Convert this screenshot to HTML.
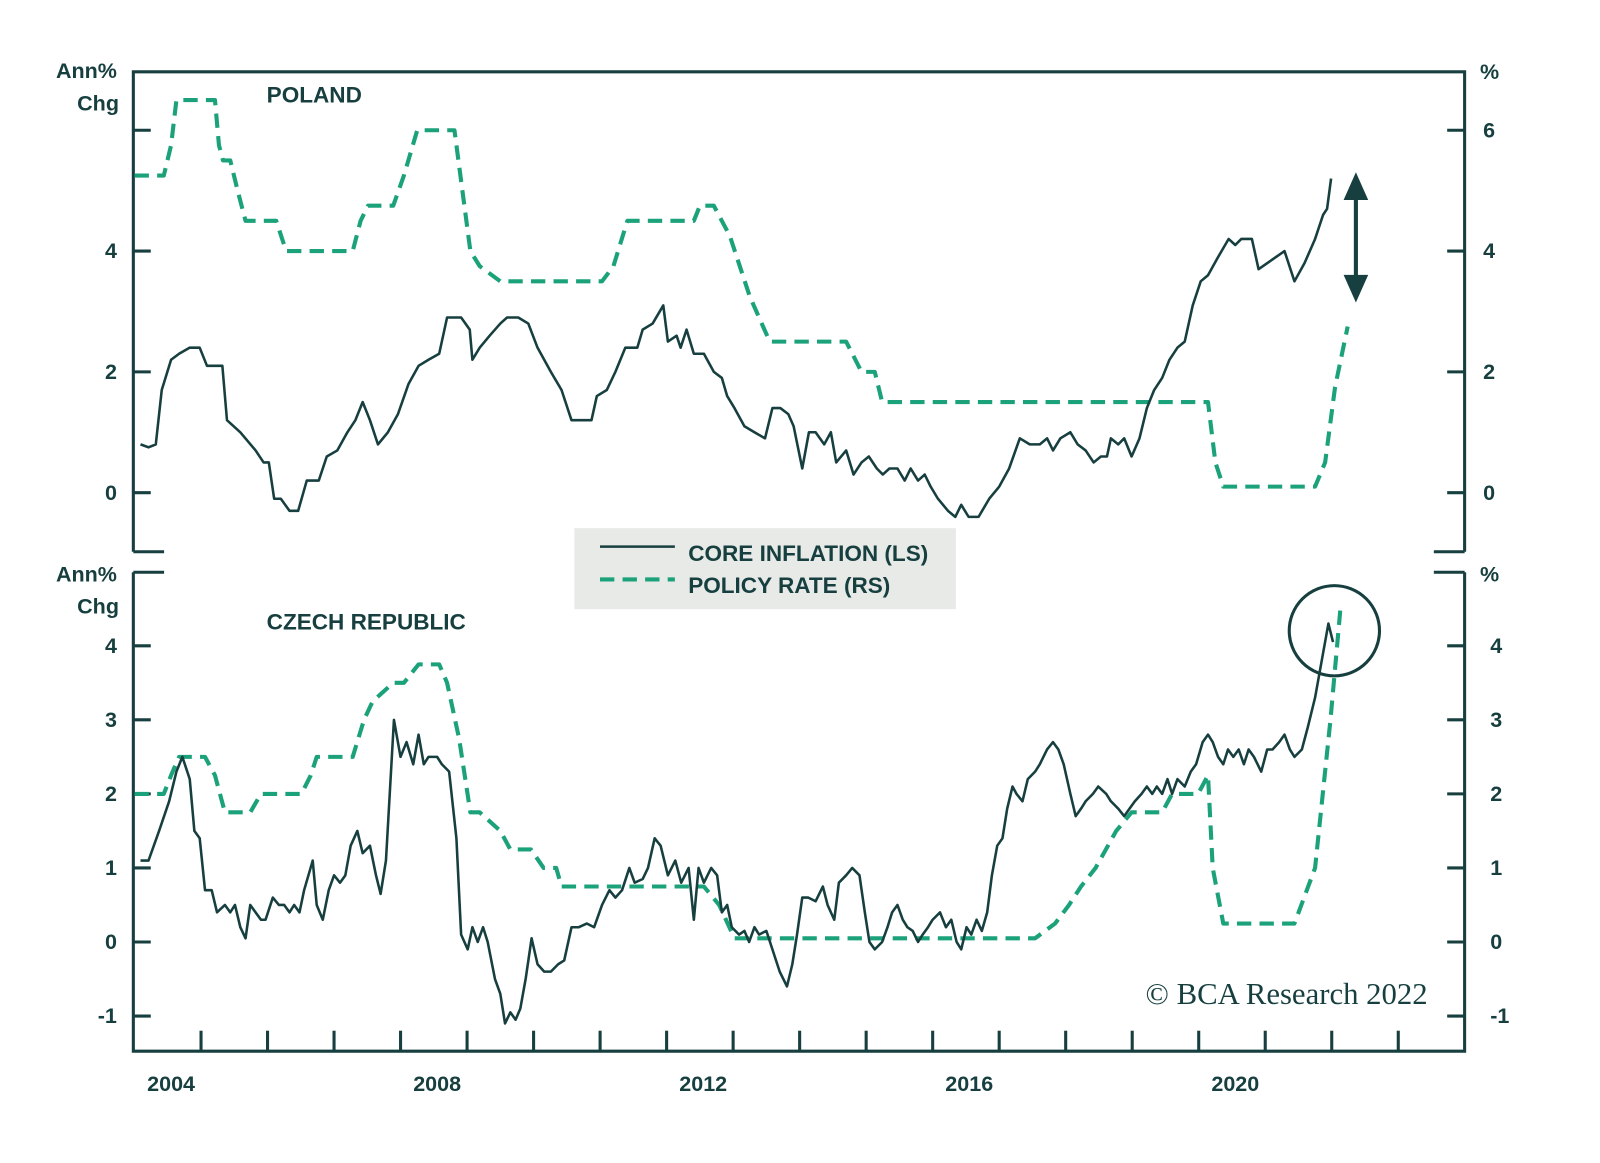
<!DOCTYPE html>
<html><head><meta charset="utf-8"><style>
html,body{margin:0;padding:0;background:#fff;}
svg{display:block;}
text{font-family:"Liberation Sans",sans-serif;fill:#173f3f;}
</style></head><body>
<svg id="chart" width="1600" height="1163" viewBox="0 0 1560 1134" preserveAspectRatio="none" xmlns="http://www.w3.org/2000/svg">
<g id="frame" stroke="#173f3f" stroke-width="3" fill="none">
  <path d="M130,538 L130,70 L1428,70 L1428,538 M130,538 L160,538 M1398,538 L1428,538"/>
  <path d="M130,558 L130,1025 L1428,1025 L1428,558 M130,558 L160,558 M1398,558 L1428,558"/>
</g>
<g id="ticks"></g>
<g id="labels" font-weight="bold" font-size="21"></g>
<text x="260" y="100" font-size="22" font-weight="bold">POLAND</text>
<text x="260" y="614" font-size="22" font-weight="bold">CZECH REPUBLIC</text>
<g font-size="21" font-weight="bold" text-anchor="end">
  <text x="114" y="76">Ann%</text><text x="116" y="108">Chg</text>
  <text x="114" y="567">Ann%</text><text x="116" y="598">Chg</text>
</g>
<text x="1443" y="77" font-size="21" font-weight="bold">%</text>
<text x="1443" y="567" font-size="21" font-weight="bold">%</text>
<g id="series"></g>
<g>
  <rect x="560" y="515" width="372" height="79" fill="#e7eae7"/>
  <line x1="585" y1="533" x2="658" y2="533" stroke="#173f3f" stroke-width="2.5"/>
  <line x1="585" y1="565" x2="658" y2="565" stroke="#1ba27a" stroke-width="4" stroke-dasharray="14,8"/>
  <text x="671" y="547" font-size="22" font-weight="bold">CORE INFLATION (LS)</text>
  <text x="671" y="578" font-size="22" font-weight="bold">POLICY RATE (RS)</text>
</g>
<g fill="#173f3f" stroke="#173f3f">
  <line x1="1322" y1="185" x2="1322" y2="280" stroke-width="4"/>
  <polygon points="1322,168 1310,195 1334,195" stroke="none"/>
  <polygon points="1322,295 1310,268 1334,268" stroke="none"/>
</g>
<circle cx="1301" cy="615" r="44" fill="none" stroke="#173f3f" stroke-width="3"/>
<text x="1392" y="979" text-anchor="end" font-size="30" style="font-family:'Liberation Serif',serif">© BCA Research 2022</text>
</svg>
<script>
const plCoreDates=[2003.54,2003.66,2003.77,2003.86,2004.00,2004.12,2004.28,2004.43,2004.54,2004.77,2004.84,2005.04,2005.27,2005.39,2005.47,2005.55,2005.65,2005.78,2005.91,2006.04,2006.22,2006.34,2006.50,2006.65,2006.77,2006.88,2006.99,2007.11,2007.26,2007.41,2007.57,2007.72,2007.87,2008.03,2008.15,2008.36,2008.49,2008.53,2008.64,2008.79,2008.95,2009.05,2009.22,2009.37,2009.51,2009.71,2009.87,2010.02,2010.32,2010.40,2010.55,2010.68,2010.83,2011.01,2011.09,2011.24,2011.40,2011.47,2011.60,2011.66,2011.75,2011.86,2012.01,2012.16,2012.28,2012.36,2012.47,2012.62,2012.77,2012.93,2013.04,2013.16,2013.28,2013.36,2013.49,2013.59,2013.69,2013.82,2013.92,2014.00,2014.15,2014.26,2014.38,2014.49,2014.61,2014.70,2014.80,2014.92,2015.03,2015.12,2015.23,2015.33,2015.42,2015.53,2015.68,2015.79,2015.88,2015.99,2016.14,2016.30,2016.45,2016.60,2016.76,2016.91,2017.06,2017.17,2017.26,2017.37,2017.52,2017.63,2017.75,2017.87,2017.98,2018.07,2018.13,2018.24,2018.33,2018.44,2018.56,2018.67,2018.78,2018.90,2019.01,2019.13,2019.24,2019.36,2019.48,2019.59,2019.74,2019.90,2020.00,2020.09,2020.25,2020.35,2020.48,2020.61,2020.74,2020.89,2021.04,2021.20,2021.32,2021.38,2021.44];
const plCoreValues=[0.8,0.75,0.8,1.7,2.2,2.3,2.4,2.4,2.1,2.1,1.2,1.0,0.7,0.5,0.5,-0.1,-0.1,-0.3,-0.3,0.2,0.2,0.6,0.7,1.0,1.2,1.5,1.2,0.8,1.0,1.3,1.8,2.1,2.2,2.3,2.9,2.9,2.7,2.2,2.4,2.6,2.8,2.9,2.9,2.8,2.4,2.0,1.7,1.2,1.2,1.6,1.7,2.0,2.4,2.4,2.7,2.8,3.1,2.5,2.6,2.4,2.7,2.3,2.3,2.0,1.9,1.6,1.4,1.1,1.0,0.9,1.4,1.4,1.3,1.1,0.4,1.0,1.0,0.8,1.0,0.5,0.7,0.3,0.5,0.6,0.4,0.3,0.4,0.4,0.2,0.4,0.2,0.3,0.1,-0.1,-0.3,-0.4,-0.2,-0.4,-0.4,-0.1,0.1,0.4,0.9,0.8,0.8,0.9,0.7,0.9,1.0,0.8,0.7,0.5,0.6,0.6,0.9,0.8,0.9,0.6,0.9,1.4,1.7,1.9,2.2,2.4,2.5,3.1,3.5,3.6,3.9,4.2,4.1,4.2,4.2,3.7,3.8,3.9,4.0,3.5,3.8,4.2,4.6,4.7,5.2];
const plRateDates=[2003.45,2003.89,2004.0,2004.08,2004.66,2004.72,2004.78,2004.89,2005.0,2005.12,2005.58,2005.73,2006.73,2006.85,2006.96,2007.34,2007.5,2007.7,2008.26,2008.35,2008.5,2008.64,2008.95,2010.48,2010.65,2010.86,2011.86,2011.95,2012.16,2012.4,2012.7,2013.0,2014.15,2014.38,2014.58,2014.69,2019.59,2019.7,2019.82,2021.2,2021.35,2021.5,2021.69];
const plRateValues=[5.25,5.25,5.75,6.5,6.5,5.75,5.5,5.5,5.0,4.5,4.5,4.0,4.0,4.5,4.75,4.75,5.25,6.0,6.0,5.25,4.0,3.75,3.5,3.5,3.75,4.5,4.5,4.75,4.75,4.25,3.25,2.5,2.5,2.0,2.0,1.5,1.5,0.5,0.1,0.1,0.5,1.75,2.75];
const czCoreDates=[2003.54,2003.66,2003.82,2003.97,2004.08,2004.17,2004.28,2004.35,2004.43,2004.51,2004.61,2004.69,2004.81,2004.89,2004.96,2005.04,2005.12,2005.19,2005.27,2005.35,2005.42,2005.53,2005.62,2005.70,2005.78,2005.85,2005.93,2006.00,2006.13,2006.19,2006.28,2006.37,2006.45,2006.54,2006.62,2006.70,2006.80,2006.88,2006.99,2007.08,2007.15,2007.23,2007.35,2007.45,2007.54,2007.64,2007.72,2007.80,2007.87,2008.00,2008.07,2008.18,2008.29,2008.36,2008.46,2008.53,2008.61,2008.69,2008.76,2008.87,2008.95,2009.02,2009.10,2009.18,2009.25,2009.33,2009.42,2009.51,2009.61,2009.71,2009.82,2009.91,2010.02,2010.13,2010.25,2010.36,2010.48,2010.59,2010.68,2010.78,2010.89,2010.97,2011.09,2011.17,2011.27,2011.36,2011.47,2011.58,2011.67,2011.78,2011.86,2011.93,2012.01,2012.12,2012.21,2012.28,2012.36,2012.43,2012.54,2012.62,2012.69,2012.77,2012.84,2012.95,2013.04,2013.15,2013.26,2013.34,2013.41,2013.49,2013.58,2013.69,2013.80,2013.87,2013.97,2014.04,2014.15,2014.24,2014.35,2014.43,2014.50,2014.58,2014.69,2014.77,2014.84,2014.92,2015.00,2015.07,2015.15,2015.23,2015.30,2015.38,2015.45,2015.56,2015.65,2015.73,2015.81,2015.88,2015.96,2016.03,2016.11,2016.19,2016.27,2016.34,2016.42,2016.50,2016.57,2016.65,2016.71,2016.80,2016.88,2016.99,2017.06,2017.17,2017.26,2017.34,2017.42,2017.52,2017.60,2017.68,2017.75,2017.86,2017.94,2018.06,2018.13,2018.24,2018.33,2018.41,2018.49,2018.59,2018.67,2018.75,2018.82,2018.90,2018.98,2019.05,2019.13,2019.24,2019.33,2019.41,2019.51,2019.59,2019.66,2019.74,2019.82,2019.89,2019.97,2020.05,2020.13,2020.20,2020.28,2020.39,2020.48,2020.56,2020.66,2020.74,2020.82,2020.89,2021.00,2021.09,2021.20,2021.30,2021.40,2021.47];
const czCoreValues=[1.1,1.1,1.5,1.9,2.3,2.5,2.2,1.5,1.4,0.7,0.7,0.4,0.5,0.4,0.5,0.2,0.05,0.5,0.4,0.3,0.3,0.6,0.5,0.5,0.4,0.5,0.4,0.7,1.1,0.5,0.3,0.7,0.9,0.8,0.9,1.3,1.5,1.2,1.3,0.9,0.65,1.1,3.0,2.5,2.7,2.4,2.8,2.4,2.5,2.5,2.4,2.3,1.4,0.1,-0.1,0.2,0.0,0.2,0.0,-0.5,-0.7,-1.1,-0.95,-1.05,-0.9,-0.5,0.05,-0.3,-0.4,-0.4,-0.3,-0.25,0.2,0.2,0.25,0.2,0.5,0.7,0.6,0.7,1.0,0.8,0.85,1.0,1.4,1.3,0.9,1.1,0.8,1.0,0.3,1.0,0.8,1.0,0.9,0.4,0.5,0.2,0.1,0.15,0.0,0.2,0.1,0.15,-0.1,-0.4,-0.6,-0.3,0.1,0.6,0.6,0.55,0.75,0.5,0.3,0.8,0.9,1.0,0.9,0.4,0.0,-0.1,0.0,0.2,0.4,0.5,0.3,0.2,0.15,0.0,0.1,0.2,0.3,0.4,0.2,0.3,0.0,-0.1,0.2,0.1,0.3,0.15,0.4,0.9,1.3,1.4,1.8,2.1,2.0,1.9,2.2,2.3,2.4,2.6,2.7,2.6,2.4,2.0,1.7,1.8,1.9,2.0,2.1,2.0,1.9,1.8,1.7,1.8,1.9,2.0,2.1,2.0,2.1,2.0,2.2,2.0,2.2,2.1,2.3,2.4,2.7,2.8,2.7,2.5,2.4,2.6,2.5,2.6,2.4,2.6,2.5,2.3,2.6,2.6,2.7,2.8,2.6,2.5,2.6,2.9,3.3,3.8,4.3,4.05];
const czRateDates=[2003.45,2003.89,2004.0,2004.12,2004.51,2004.66,2004.81,2005.19,2005.35,2005.96,2006.1,2006.19,2006.73,2006.9,2007.03,2007.34,2007.5,2007.72,2008.03,2008.15,2008.33,2008.5,2008.64,2008.95,2009.1,2009.41,2009.6,2009.79,2009.87,2012.01,2012.24,2012.47,2016.99,2017.29,2017.5,2017.68,2017.9,2018.21,2018.44,2018.9,2019.05,2019.44,2019.59,2019.66,2019.82,2020.89,2021.2,2021.43,2021.58];
const czRateValues=[2,2,2.25,2.5,2.5,2.25,1.75,1.75,2.0,2.0,2.25,2.5,2.5,3.0,3.25,3.5,3.5,3.75,3.75,3.5,2.75,1.75,1.75,1.5,1.25,1.25,1.0,1.0,0.75,0.75,0.5,0.05,0.05,0.25,0.5,0.75,1.0,1.5,1.75,1.75,2.0,2.0,2.25,1.0,0.25,0.25,1.0,3.0,4.5];
const xTickYears=[2004.45,2005.45,2006.45,2007.45,2008.45,2009.45,2010.45,2011.45,2012.45,2013.45,2014.45,2015.45,2016.45,2017.45,2018.45,2019.45,2020.45,2021.45,2022.45];
const xLabelYears=[2004,2008,2012,2016,2020];
const topLeftTicks=[6,4,2,0];
const topLeftLabels=["","4","2","0"];
const topRightTicks=[6,4,2,0];
const botTicks=[4,3,2,1,0,-1];

const NS="http://www.w3.org/2000/svg";
const x=t=>196+(t-2004.45)*64.85;
const yTop=v=>480.4-v*58.9;
const yBot=v=>918.5-v*72.2;
function mk(tag,attrs,parent){const e=document.createElementNS(NS,tag);for(const k in attrs)e.setAttribute(k,attrs[k]);parent.appendChild(e);return e;}
const ticks=document.getElementById('ticks'),labels=document.getElementById('labels'),series=document.getElementById('series');
xTickYears.forEach(t=>{const l=mk('line',{x1:x(t),x2:x(t),y1:1025,y2:1005,stroke:'#173f3f','stroke-width':3},ticks);

});
xLabelYears.forEach(t=>{const e=mk('text',{x:x(t),y:1064,'text-anchor':'middle'},labels);e.textContent=t;

});
topLeftTicks.forEach((v,i)=>{const l=mk('line',{x1:130,x2:147,y1:yTop(v),y2:yTop(v),stroke:'#173f3f','stroke-width':3},ticks);


const e=mk('text',{x:114,y:yTop(v)+7,'text-anchor':'end'},labels);e.textContent=topLeftLabels[i];

});
topRightTicks.forEach(v=>{const l=mk('line',{x1:1411,x2:1428,y1:yTop(v),y2:yTop(v),stroke:'#173f3f','stroke-width':3},ticks);


const e=mk('text',{x:1446,y:yTop(v)+7},labels);e.textContent=v;

});
botTicks.forEach(v=>{const l=mk('line',{x1:130,x2:147,y1:yBot(v),y2:yBot(v),stroke:'#173f3f','stroke-width':3},ticks);


const r=mk('line',{x1:1411,x2:1428,y1:yBot(v),y2:yBot(v),stroke:'#173f3f','stroke-width':3},ticks);


const e=mk('text',{x:114,y:yBot(v)+7,'text-anchor':'end'},labels);e.textContent=v;


const f=mk('text',{x:1453,y:yBot(v)+7},labels);f.textContent=v;

});
function line(dates,vals,yf,dashed,name){
  const d=dates.map((t,i)=>(i?'L':'M')+x(t).toFixed(1)+','+yf(vals[i]).toFixed(1)).join(' ');
  const p=mk('path',{d:d,fill:'none',stroke:dashed?'#1ba27a':'#173f3f','stroke-width':dashed?4:2.5,'stroke-dasharray':dashed?'14,8':'none','stroke-linejoin':'round'},series);
  
  
}
line(plRateDates,plRateValues,yTop,true,'poland-policy-rate-line');
line(plCoreDates,plCoreValues,yTop,false,'poland-core-inflation-line');
line(czRateDates,czRateValues,yBot,true,'czech-policy-rate-line');
line(czCoreDates,czCoreValues,yBot,false,'czech-core-inflation-line');
</script>
</body></html>
